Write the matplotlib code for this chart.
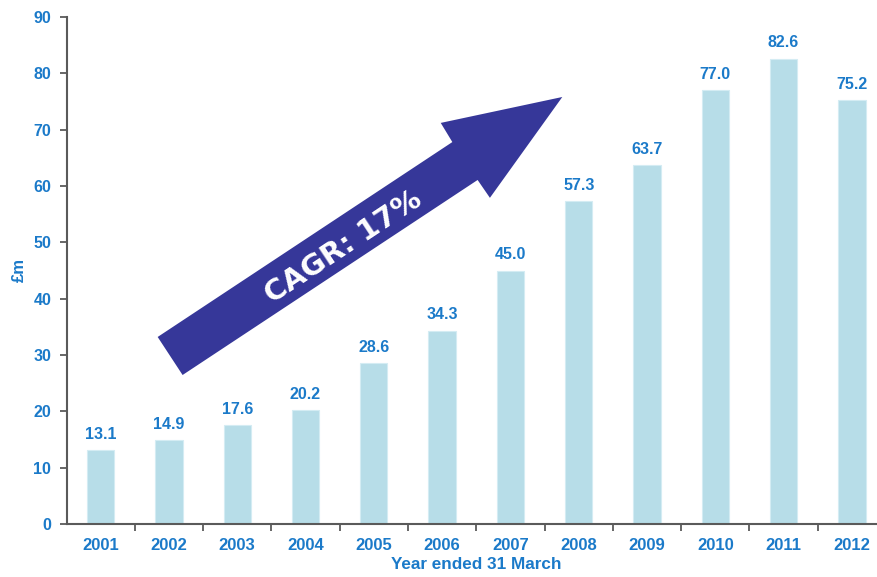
import matplotlib
matplotlib.use("Agg")
import matplotlib.pyplot as plt
from matplotlib.patches import Polygon
import numpy as np

years = ["2001", "2002", "2003", "2004", "2005", "2006", "2007", "2008", "2009", "2010", "2011", "2012"]
values = [13.1, 14.9, 17.6, 20.2, 28.6, 34.3, 45.0, 57.3, 63.7, 77.0, 82.6, 75.2]
y_ticks = [0, 10, 20, 30, 40, 50, 60, 70, 80, 90]
arrow_label = "CAGR: 17%"

BLUE = "#1B7AC9"
BAR = "#B7DDE8"
ARROW = "#363799"
SPINE = "#5A5A5A"

fig = plt.figure(figsize=(8.77, 5.77), dpi=100)
ax = fig.add_axes([66.5 / 877, 53 / 577, (886 - 66.5) / 877, (524 - 17) / 577])

x = np.arange(len(years))
ax.bar(x, values, width=0.4, color=BAR, edgecolor="#D4ECF3", linewidth=0.8, zorder=2)

for xi, v in zip(x, values):
    ax.annotate(f"{v:.1f}", (xi, v), xytext=(0, 6), textcoords="offset points",
                ha="center", va="bottom", color=BLUE, fontsize=11.5,
                fontweight="bold", family="Liberation Sans")

ax.set_xlim(-0.5, len(years) - 0.5)
ax.set_ylim(0, 90)
ax.set_yticks(y_ticks)
ax.set_xticks(x)
ax.set_xticklabels(years)
ax.set_xticks(np.arange(len(years)) + 0.5, minor=True)
ax.tick_params(axis="x", which="major", length=0, pad=10, labelcolor=BLUE, labelsize=12)
ax.tick_params(axis="x", which="minor", length=5, width=1.3, color=SPINE, direction="out")
ax.tick_params(axis="y", length=5, width=1.3, color=SPINE, labelcolor=BLUE, labelsize=11.5, pad=6)
for lab in ax.get_xticklabels() + ax.get_yticklabels():
    lab.set_fontweight("bold")
    lab.set_family("Liberation Sans")

for s in ["top", "right"]:
    ax.spines[s].set_visible(False)
for s in ["left", "bottom"]:
    ax.spines[s].set_color(SPINE)
    ax.spines[s].set_linewidth(1.5)

ax.set_xlabel("Year ended 31 March", color=BLUE, fontsize=12.3, fontweight="bold",
              family="Liberation Sans", labelpad=3)
ax.set_ylabel("£m", color=BLUE, fontsize=12, fontweight="bold",
              family="Liberation Sans", labelpad=5)

# arrow annotation (data coordinates)
arrow_pts = [(0.835, 33.2), (5.15, 67.8), (4.98, 71.2), (6.76, 75.8),
             (5.70, 57.9), (5.52, 61.07), (1.20, 26.45)]
ax.add_patch(Polygon(arrow_pts, closed=True, facecolor=ARROW, edgecolor="none", zorder=3))
ax.text(3.56, 49.2, arrow_label, rotation=33.5, rotation_mode="anchor",
        ha="center", va="center", color="white", fontsize=21, fontweight="bold",
        family="DejaVu Sans", zorder=4)

fig.savefig("out.png", dpi=100)
